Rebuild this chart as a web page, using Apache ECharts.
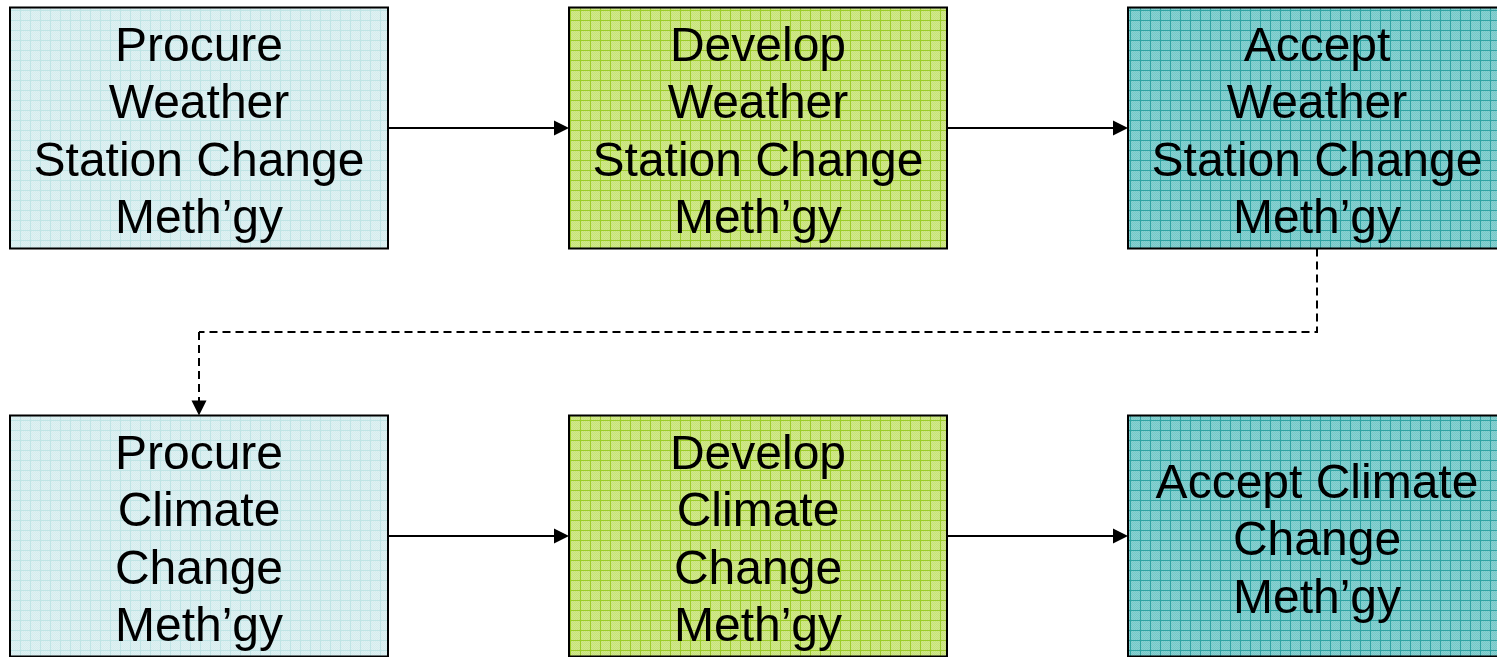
<!DOCTYPE html>
<html>
<head>
<meta charset="utf-8">
<script src="https://cdn.jsdelivr.net/npm/echarts@6/dist/echarts.min.js"></script>
<style>
html, body { margin: 0; padding: 0; background: #fff; }
#main { width: 1497px; height: 657px; }
</style>
</head>
<body>
<div id="main"></div>
<script>
// steps of the flow, one entry per box
var stepLabels = [
  'Procure\nWeather\nStation Change\nMeth\u2019gy',
  'Develop\nWeather\nStation Change\nMeth\u2019gy',
  'Accept\nWeather\nStation Change\nMeth\u2019gy',
  'Procure\nClimate\nChange\nMeth\u2019gy',
  'Develop\nClimate\nChange\nMeth\u2019gy',
  'Accept Climate\nChange\nMeth\u2019gy'
];
var stepCols = [0, 1, 2, 0, 1, 2];
var stepRows = [0, 0, 0, 1, 1, 1];
// links between steps: [from, to]
var stepLinks = [[0, 1], [1, 2], [2, 3], [3, 4], [4, 5]];

// box size in axis units (one unit = distance between columns / rows)
var BOX_W = 0.6762;
var BOX_H = 0.5907;
var X_MIN = -0.35599, X_MAX = 2.32200;
var Y_MIN = -0.31373, Y_MAX = 1.29657;
// triangle head is centred on the end point, so pull the end back by half its length
var HEAD = 7.5;
var backX = HEAD * (X_MAX - X_MIN) / 1497;
var backY = HEAD * (Y_MAX - Y_MIN) / 657;

// grid-paper fills, one per column (stage)
function makePattern(bg, dot, line) {
  var c = document.createElement('canvas');
  c.width = 10; c.height = 10;
  var ctx = c.getContext('2d');
  ctx.fillStyle = bg;
  ctx.fillRect(0, 0, 10, 10);
  ctx.fillStyle = dot;
  for (var i = 0; i < 10; i++) {
    for (var j = 0; j < 10; j++) {
      if ((i + j) % 2 === 0) ctx.fillRect(i, j, 1, 1);
    }
  }
  ctx.fillStyle = line;
  ctx.fillRect(0, 0, 10, 1);
  ctx.fillRect(0, 0, 1, 10);
  return c;
}
var fills = [
  makePattern('#e0f1f2', '#d4ecee', '#bfe4e5'),
  makePattern('#d2e98c', '#c6e27a', '#9ccc2a'),
  makePattern('#88d2d2', '#76c7c7', '#2fa3a3')
];

var boxData = stepLabels.map(function (t, i) {
  return [stepCols[i], stepRows[i]];
});

var solidLinks = [];
var dashedPath = [];
var dashedLast = [];
stepLinks.forEach(function (l) {
  var a = l[0], b = l[1];
  if (stepRows[a] === stepRows[b]) {
    solidLinks.push({ coords: [
      [stepCols[a] + BOX_W / 2, stepRows[a]],
      [stepCols[b] - BOX_W / 2 - backX, stepRows[b]]
    ] });
  } else {
    var midY = (stepRows[a] + stepRows[b]) / 2;
    dashedPath.push({ coords: [
      [stepCols[a], stepRows[a] + BOX_H / 2],
      [stepCols[a], midY],
      [stepCols[b], midY]
    ] });
    dashedLast.push({ coords: [
      [stepCols[b], midY],
      [stepCols[b], stepRows[b] - BOX_H / 2 - backY]
    ] });
  }
});

var myChart = echarts.init(document.getElementById('main'));
myChart.setOption({
  animation: false,
  grid: { left: 0, right: 0, top: 0, bottom: 0 },
  xAxis: { type: 'value', min: X_MIN, max: X_MAX, show: false },
  yAxis: { type: 'value', min: Y_MIN, max: Y_MAX, inverse: true, show: false },
  series: [
    {
      type: 'custom',
      coordinateSystem: 'cartesian2d',
      data: boxData,
      z: 2,
      renderItem: function (params, api) {
        var x = api.value(0), y = api.value(1);
        var p0 = api.coord([x - BOX_W / 2, y - BOX_H / 2]);
        var p1 = api.coord([x + BOX_W / 2, y + BOX_H / 2]);
        var i = params.dataIndex;
        return {
          type: 'group',
          children: [
            {
              type: 'rect',
              shape: { x: p0[0], y: p0[1], width: p1[0] - p0[0], height: p1[1] - p0[1] },
              style: { fill: { image: fills[stepCols[i]], repeat: 'repeat' }, stroke: '#000', lineWidth: 2 }
            },
            {
              type: 'text',
              style: {
                text: stepLabels[i],
                x: (p0[0] + p1[0]) / 2,
                y: (p0[1] + p1[1]) / 2 + 6,
                align: 'center',
                verticalAlign: 'middle',
                fontSize: 48,
                fontFamily: '"Liberation Sans", Arial, sans-serif',
                lineHeight: 57.5,
                fill: '#000'
              }
            }
          ]
        };
      }
    },
    {
      type: 'lines',
      coordinateSystem: 'cartesian2d',
      z: 3,
      symbol: ['none', 'triangle'],
      symbolSize: [13, 15],
      lineStyle: { color: '#000', width: 2, opacity: 1, curveness: 0 },
      data: solidLinks
    },
    {
      type: 'lines',
      coordinateSystem: 'cartesian2d',
      polyline: true,
      z: 3,
      lineStyle: { color: '#000', width: 2, type: [8, 5], opacity: 1 },
      data: dashedPath
    },
    {
      type: 'lines',
      coordinateSystem: 'cartesian2d',
      z: 3,
      symbol: ['none', 'triangle'],
      symbolSize: [13, 15],
      lineStyle: { color: '#000', width: 2, type: [8, 5], opacity: 1, curveness: 0 },
      data: dashedLast
    }
  ]
});
window.onresize = function () {
  myChart.resize();
};
</script>
</body>
</html>
